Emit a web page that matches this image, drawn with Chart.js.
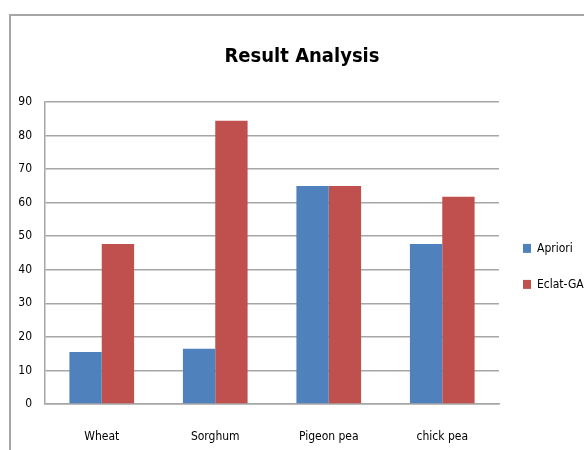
<!DOCTYPE html>
<html>
<head>
<meta charset="utf-8">
<script src="https://cdn.jsdelivr.net/npm/chart.js@4/dist/chart.umd.min.js"></script>
<style>
  html, body { margin: 0; padding: 0; background: #fff; }
  #wrap { position: relative; width: 584px; height: 450px; }
  #frame { position: absolute; left: 9px; top: 14px; right: -4px; bottom: -4px;
           border-left: 2px solid #a6a6a6; border-top: 2px solid #a6a6a6; }
  canvas { position: absolute; left: 0; top: 0; }
</style>
</head>
<body>
<div id="wrap">
  <div id="frame"></div>
  <canvas id="chart" width="584" height="450"></canvas>
</div>
<script>
const categories = ['Wheat', 'Sorghum', 'Pigeon pea', 'chick pea'];
const apriori = [15.5, 16.5, 65, 47.7];
const eclatGA = [47.7, 84.4, 65, 61.8];
const yTicks = [0, 10, 20, 30, 40, 50, 60, 70, 80, 90];

const FONT = "'Liberation Sans Narrow', 'DejaVu Sans Condensed', 'Arial Narrow', sans-serif";
const gridGray = '#a6a6a6';

// Centre the title over the framed area rather than the whole canvas.
const titleOffset = {
  id: 'titleOffset',
  afterLayout(chart) {
    if (chart.titleBlock) chart.titleBlock.left = 20;
  }
};

new Chart(document.getElementById('chart'), {
  type: 'bar',
  data: {
    labels: categories,
    datasets: [
      { label: 'Apriori', data: apriori, backgroundColor: '#4f81bd' },
      { label: 'Eclat-GA', data: eclatGA, backgroundColor: '#c0504d' }
    ]
  },
  plugins: [titleOffset],
  options: {
    responsive: false,
    animation: false,
    layout: { padding: { left: 0, right: 0, top: 0, bottom: 0 } },
    datasets: { bar: { categoryPercentage: 0.57, barPercentage: 1.0 } },
    plugins: {
      title: {
        display: true,
        text: 'Result Analysis',
        color: '#000',
        font: { family: FONT, size: 20, weight: 'bold' },
        padding: { top: 45, bottom: 33 }
      },
      legend: {
        position: 'right',
        align: 'start',
        maxWidth: 85,
        // empty legend title keeps the entries down beside the middle of the plot
        title: { display: true, text: '', font: { size: 12 }, padding: { top: 204, bottom: 0 } },
        labels: {
          color: '#000',
          font: { family: FONT, size: 12 },
          boxWidth: 8,
          boxHeight: 9,
          padding: 24
        }
      },
      tooltip: { enabled: false }
    },
    scales: {
      x: {
        afterFit: (scale) => { scale.height = 46; },
        grid: { display: false, drawTicks: false },
        border: { display: true, color: gridGray, width: 1.5 },
        ticks: { color: '#000', font: { family: FONT, size: 12 }, padding: 26, maxRotation: 0 }
      },
      y: {
        min: 0,
        max: 90,
        afterBuildTicks: (scale) => { scale.ticks = yTicks.map(v => ({ value: v })); },
        afterFit: (scale) => { scale.width = 45; },
        grid: { color: gridGray, lineWidth: 1.5, drawTicks: false },
        border: { display: true, color: gridGray, width: 1.5 },
        ticks: { color: '#000', font: { family: FONT, size: 12 }, padding: 13 }
      }
    }
  }
});
</script>
</body>
</html>
